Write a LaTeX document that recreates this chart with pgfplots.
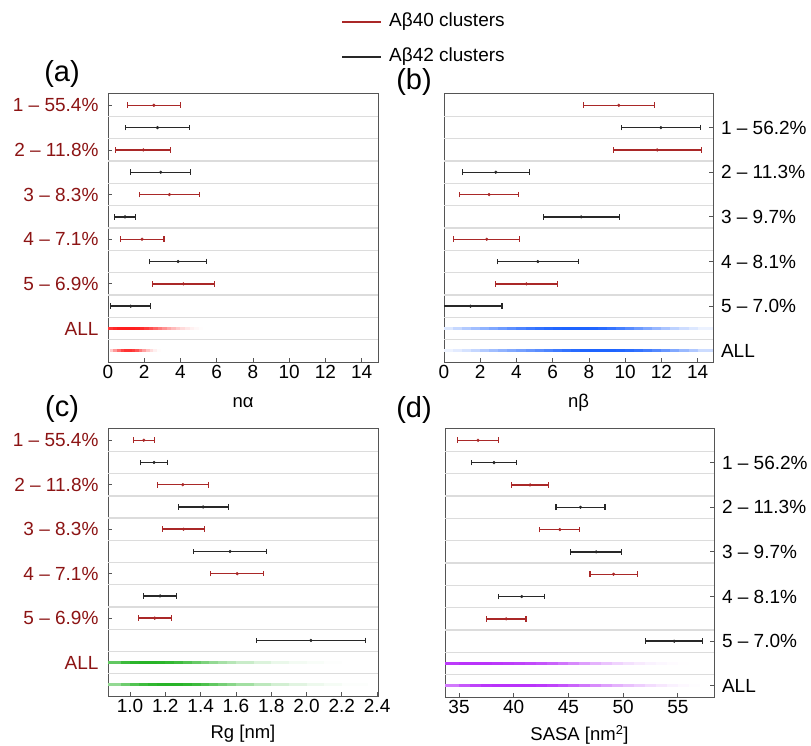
\documentclass[border=0pt]{standalone}
\usepackage{fontspec}
\setmainfont{Liberation Sans}
\usepackage{pgfplots}
\pgfplotsset{compat=1.18}
\definecolor{red40}{RGB}{170,40,40}
\definecolor{labelred}{RGB}{140,20,20}
\definecolor{bar42}{RGB}{40,40,40}
\definecolor{axisgray}{RGB}{85,85,85}
\definecolor{gridgray}{RGB}{220,220,220}
\pgfplotsset{
  colormap={redmap}{rgb255=(255,255,255) rgb255=(255,30,30)},
  colormap={bluemap}{rgb255=(255,255,255) rgb255=(30,100,255)},
  colormap={greenmap}{rgb255=(255,255,255) rgb255=(40,180,40)},
  colormap={purplemap}{rgb255=(255,255,255) rgb255=(185,50,250)},
  panel/.style={
    scale only axis, width=270pt, height=269pt,
    ymin=0.5, ymax=12.55,
    axis line style={draw=axisgray, line width=0.9pt},
    tick style={draw=axisgray, line width=0.8pt},
    major tick length=4pt,
    xtick pos=bottom,
    extra y ticks={1.5,2.5,3.5,4.5,5.5,6.5,7.5,8.5,9.5,10.5,11.5},
    extra y tick labels={},
    extra y tick style={grid=major, major grid style={draw=gridgray, line width=1.4pt}, major tick length=0pt},
    tick label style={font=\fontsize{19}{21}\selectfont},
    label style={font=\fontsize{18.5}{20}\selectfont},
    /pgf/number format/assume math mode=true,
    point meta min=0, point meta max=1,
  },
  leftlab/.style={ytick pos=left, ytick={12,10,8,6,4,2},
    yticklabels={1 – 55.4\%, 2 – 11.8\%, 3 – 8.3\%, 4 – 7.1\%, 5 – 6.9\%, ALL},
    yticklabel style={text=labelred, xshift=-6pt, font=\fontsize{19}{21}\selectfont}},
  rightlab/.style={ytick pos=right, yticklabel pos=right, ytick={11,9,7,5,3,1},
    yticklabels={1 – 56.2\%, 2 – 11.3\%, 3 – 9.7\%, 4 – 8.1\%, 5 – 7.0\%, ALL},
    yticklabel style={text=black, xshift=4.5pt, font=\fontsize{19}{21}\selectfont}},
  errbar/.style={only marks, color=#1, mark=*, mark size=1.4pt,
    error bars/.cd, x dir=both, x explicit, error mark=|,
    error bar style={line width=1.4pt, #1},
    error mark options={mark size=2.8pt, line width=1.1pt, #1}},
  grad/.style={mesh, point meta=explicit, line width=3.2pt, shader=flat},
}
\begin{document}
\begin{tikzpicture}
\path[use as bounding box] (0pt,0pt) rectangle (811pt,745pt);
% legend
\draw[red40, line width=1.3pt] (342pt,723pt) -- (381pt,723pt);
\node[anchor=west, font=\fontsize{19}{21}\selectfont, inner sep=0pt] at (389pt,723pt) {Aβ40 clusters};
\draw[bar42, line width=1.3pt] (342pt,688pt) -- (381pt,688pt);
\node[anchor=west, font=\fontsize{19}{21}\selectfont, inner sep=0pt] at (389pt,688pt) {Aβ42 clusters};
% panel letters
\node[font=\fontsize{29}{31}\selectfont] at (62pt,671pt) {(a)};
\node[font=\fontsize{29}{31}\selectfont] at (414pt,663pt) {(b)};
\node[font=\fontsize{29}{31}\selectfont] at (62pt,336pt) {(c)};
\node[font=\fontsize{29}{31}\selectfont] at (414pt,335pt) {(d)};

% (a) n alpha
\begin{axis}[panel, leftlab, at={(108pt,383pt)}, anchor=south west,
  xlabel style={at={(axis description cs:0.5,-0.152)}, anchor=center},
  xmin=0, xmax=14.9, xtick={0,2,...,14}, xlabel={nα}, colormap name=redmap]
\addplot[grad] table[meta=m] {
x y m
0 2 0.85
0.25 2 0.92
0.5 2 0.98
0.75 2 1
1 2 1
1.25 2 1
1.5 2 1
1.75 2 0.96
2 2 0.9
2.25 2 0.82
2.5 2 0.73
2.75 2 0.63
3 2 0.53
3.25 2 0.43
3.5 2 0.34
3.75 2 0.26
4 2 0.19
4.25 2 0.13
4.5 2 0.08
4.75 2 0.04
5 2 0.02
5.25 2 0
};
\addplot[grad] table[meta=m] {
x y m
0.1 1 0.1
0.3 1 0.35
0.5 1 0.55
0.7 1 0.75
0.9 1 0.88
1.1 1 0.92
1.3 1 0.9
1.5 1 0.82
1.7 1 0.68
1.9 1 0.5
2.1 1 0.34
2.3 1 0.2
2.5 1 0.1
2.7 1 0.03
2.9 1 0
};
\addplot[errbar=red40] table[x=x, y=y, x error=e] {
y x e
12 2.53 1.47
10 1.95 1.52
8 3.39 1.66
6 1.88 1.21
4 4.16 1.71
};
\addplot[errbar=bar42] table[x=x, y=y, x error=e] {
y x e
11 2.73 1.75
9 2.91 1.65
7 0.94 0.60
5 3.87 1.56
3 1.25 1.10
};
\end{axis}

% (b) n beta
\begin{axis}[panel, rightlab, at={(444pt,383pt)}, anchor=south west, width=269pt,
  xlabel style={at={(axis description cs:0.5,-0.152)}, anchor=center},
  xmin=0, xmax=14.85, xtick={0,2,...,14}, xlabel={nβ}, colormap name=bluemap]
\addplot[grad] table[meta=m] {
x y m
0 2 0.1
0.5 2 0.2
1 2 0.3
1.5 2 0.38
2 2 0.45
2.5 2 0.53
3 2 0.6
3.5 2 0.68
4 2 0.75
4.5 2 0.82
5 2 0.88
5.5 2 0.93
6 2 0.97
6.5 2 0.99
7 2 1
7.5 2 1
8 2 1
8.5 2 0.97
9 2 0.92
9.5 2 0.86
10 2 0.78
10.5 2 0.7
11 2 0.6
11.5 2 0.51
12 2 0.42
12.5 2 0.33
13 2 0.25
13.5 2 0.18
14 2 0.12
14.85 2 0.05
};
\addplot[grad] table[meta=m] {
x y m
0 1 0.05
0.5 1 0.1
1 1 0.15
1.5 1 0.22
2 1 0.3
2.5 1 0.38
3 1 0.45
3.5 1 0.52
4 1 0.58
4.5 1 0.64
5 1 0.7
5.5 1 0.76
6 1 0.82
6.5 1 0.88
7 1 0.93
7.5 1 0.97
8 1 1
8.5 1 1
9 1 1
9.5 1 0.99
10 1 0.97
10.5 1 0.93
11 1 0.88
11.5 1 0.8
12 1 0.72
12.5 1 0.61
13 1 0.5
13.5 1 0.4
14 1 0.3
14.85 1 0.15
};
\addplot[errbar=red40] table[x=x, y=y, x error=e] {
y x e
12 9.65 1.97
10 11.77 2.42
8 2.49 1.63
6 2.36 1.83
4 4.55 1.72
};
\addplot[errbar=bar42] table[x=x, y=y, x error=e] {
y x e
11 11.97 2.17
9 2.86 1.85
7 7.57 2.10
5 5.18 2.25
3 1.46 1.74
};
\end{axis}

% (c) Rg
\begin{axis}[panel, leftlab, at={(108pt,49pt)}, anchor=south west, height=268pt,
  xlabel style={at={(axis description cs:0.5,-0.14)}, anchor=center},
  xmin=0.875, xmax=2.405, xtick={1.0,1.2,...,2.4}, xlabel={Rg [nm]}, colormap name=greenmap,
  xticklabel style={/pgf/number format/.cd, fixed, fixed zerofill, precision=1}]
\addplot[grad] table[meta=m] {
x y m
0.875 2 0.6
0.95 2 0.85
1.0 2 0.95
1.05 2 1
1.1 2 1
1.15 2 1
1.2 2 0.97
1.25 2 0.92
1.3 2 0.85
1.35 2 0.75
1.4 2 0.65
1.45 2 0.55
1.5 2 0.45
1.55 2 0.37
1.6 2 0.3
1.7 2 0.2
1.8 2 0.12
1.9 2 0.07
2.0 2 0.04
2.1 2 0.02
2.2 2 0
};
\addplot[grad] table[meta=m] {
x y m
0.875 1 0.4
0.95 1 0.6
1.0 1 0.75
1.05 1 0.85
1.1 1 0.93
1.15 1 0.98
1.2 1 1
1.25 1 1
1.3 1 0.98
1.35 1 0.93
1.4 1 0.86
1.45 1 0.78
1.5 1 0.68
1.55 1 0.59
1.6 1 0.5
1.7 1 0.36
1.8 1 0.25
1.9 1 0.17
2.0 1 0.11
2.1 1 0.06
2.2 1 0.03
2.35 1 0
};
\addplot[errbar=red40] table[x=x, y=y, x error=e] {
y x e
12 1.078 0.060
10 1.299 0.143
8 1.303 0.117
6 1.607 0.150
4 1.140 0.093
};
\addplot[errbar=bar42] table[x=x, y=y, x error=e] {
y x e
11 1.136 0.075
9 1.414 0.142
7 1.567 0.205
5 1.170 0.094
3 2.025 0.310
};
\end{axis}

% (d) SASA
\begin{axis}[panel, rightlab, at={(445pt,48pt)}, anchor=south west, width=269pt,
  xlabel style={at={(axis description cs:0.5,-0.14)}, anchor=center},
  xmin=33.72, xmax=58.3, xtick={35,40,...,55}, xlabel={SASA [nm\textsuperscript{2}]}, colormap name=purplemap]
\addplot[grad] table[meta=m] {
x y m
33.7 2 0.9
35 2 1
36 2 1
37 2 1
38 2 0.98
39 2 0.96
40 2 0.93
41 2 0.9
42 2 0.86
43 2 0.8
44 2 0.72
45 2 0.62
46 2 0.52
47 2 0.42
48 2 0.33
49 2 0.25
50 2 0.18
51 2 0.12
52 2 0.08
53 2 0.05
54 2 0.03
55 2 0.01
56 2 0
};
\addplot[grad] table[meta=m] {
x y m
33.7 1 0.55
35 1 0.75
36 1 0.88
37 1 0.95
38 1 1
39 1 1
40 1 1
41 1 1
42 1 0.98
43 1 0.94
44 1 0.88
45 1 0.8
46 1 0.71
47 1 0.61
48 1 0.51
49 1 0.42
50 1 0.34
51 1 0.27
52 1 0.2
53 1 0.14
54 1 0.09
55 1 0.05
56 1 0.02
57 1 0
};
\addplot[errbar=red40] table[x=x, y=y, x error=e] {
y x e
12 36.74 1.90
10 41.49 1.69
8 44.21 1.83
6 49.12 2.15
4 39.30 1.82
};
\addplot[errbar=bar42] table[x=x, y=y, x error=e] {
y x e
11 38.20 2.05
9 46.10 2.24
7 47.53 2.32
5 40.73 2.10
3 54.66 2.60
};
\end{axis}
\end{tikzpicture}
\end{document}
